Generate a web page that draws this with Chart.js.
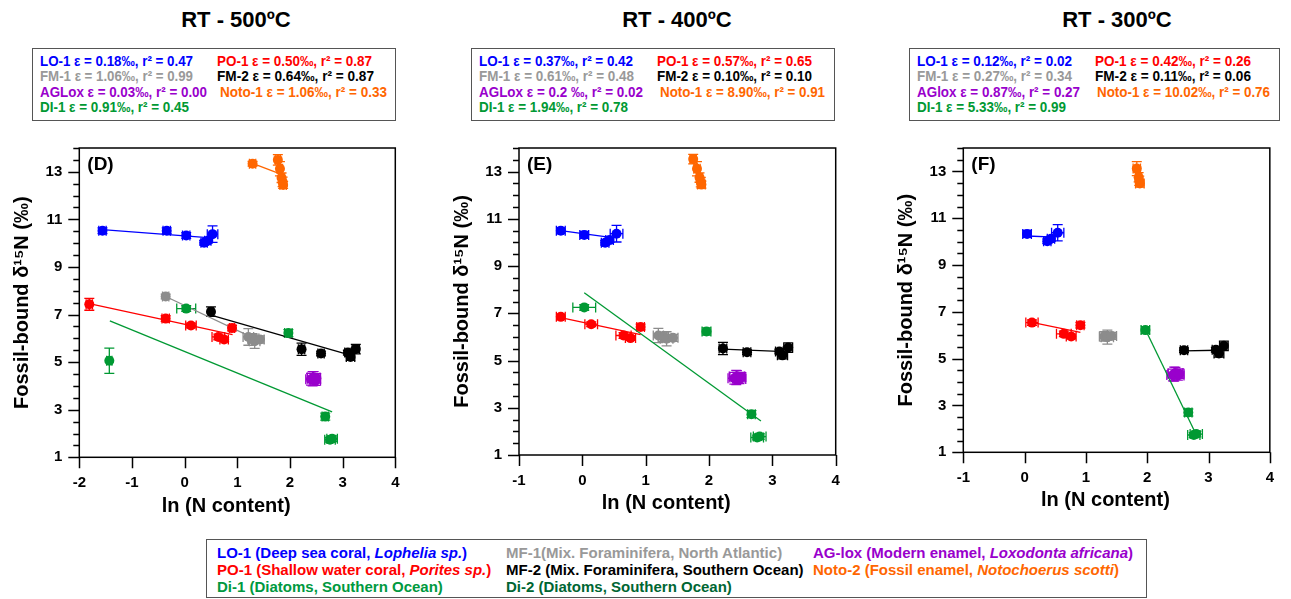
<!DOCTYPE html>
<html><head><meta charset="utf-8">
<script src="https://cdn.jsdelivr.net/npm/chart.js@4.4.0/dist/chart.umd.min.js"></script>
<style>
html,body{margin:0;padding:0;background:#fff;}
body{width:1291px;height:599px;position:relative;overflow:hidden;font-family:"Liberation Sans",Arial,sans-serif;}
.title{position:absolute;top:7px;width:300px;height:26px;line-height:26px;font-size:22px;font-weight:bold;text-align:center;color:#000;}
.box{position:absolute;border:1.5px solid #555;box-sizing:border-box;}
.st{position:absolute;font-size:14px;font-weight:bold;white-space:nowrap;line-height:16px;transform-origin:0 50%;}
.lg{position:absolute;font-size:15px;font-weight:bold;white-space:nowrap;line-height:17px;}
canvas{position:absolute;}
</style></head><body>
<div class="title" style="left:86px">RT - 500ºC</div>
<div class="title" style="left:527px">RT - 400ºC</div>
<div class="title" style="left:967px">RT - 300ºC</div>
<div id="stats"></div>
<canvas id="cD" width="420" height="408" style="left:0;top:122px"></canvas>
<canvas id="cE" width="420" height="408" style="left:440px;top:122px"></canvas>
<canvas id="cF" width="411" height="408" style="left:880px;top:122px"></canvas>
<div class="box" style="left:206px;top:539px;width:941px;height:59px"></div>
<span class="lg" style="left:217px;top:544px;color:#0000ff">LO-1 (Deep sea coral, <i>Lophelia sp.</i>)</span>
<span class="lg" style="left:506px;top:544px;color:#999999">MF-1(Mix. Foraminifera, North Atlantic)</span>
<span class="lg" style="left:813px;top:544px;color:#9900cc">AG-lox (Modern enamel, <i>Loxodonta africana</i>)</span>
<span class="lg" style="left:217px;top:561px;color:#ff0000">PO-1 (Shallow water coral, <i>Porites sp.</i>)</span>
<span class="lg" style="left:506px;top:561px;color:#000000">MF-2 (Mix. Foraminifera, Southern Ocean)</span>
<span class="lg" style="left:813px;top:561px;color:#ff6600">Noto-2 (Fossil enamel, <i>Notochoerus scotti</i>)</span>
<span class="lg" style="left:217px;top:578px;color:#009940">Di-1 (Diatoms, Southern Ocean)</span>
<span class="lg" style="left:506px;top:578px;color:#006633">Di-2 (Diatoms, Southern Ocean)</span>
<script>
// ---------- DATA: rows are [ln(N content), δ15N, x error, y error] ----------
// RT - 500ºC (D)
const LO1_500  = [[-1.56,10.52,0.07,0.12],[-0.34,10.52,0.07,0.12],[0.03,10.32,0.07,0.12],[0.37,10.02,0.06,0.10],[0.44,10.10,0.06,0.10],[0.53,10.38,0.10,0.35]];
const PO1_500  = [[-1.81,7.43,0.06,0.25],[-0.36,6.83,0.07,0.12],[0.12,6.54,0.10,0.10],[0.64,6.06,0.12,0.12],[0.75,5.95,0.08,0.08],[0.90,6.43,0.05,0.12]];
const FM1_500  = [[-0.36,7.76,0.06,0.10],[1.21,6.06,0.10,0.35],[1.28,6.00,0.08,0.20],[1.33,5.88,0.10,0.30],[1.43,5.95,0.08,0.15]];
const FM2_500  = [[0.50,7.12,0.05,0.20],[2.22,5.54,0.06,0.26],[2.59,5.36,0.06,0.10],[3.10,5.40,0.06,0.10],[3.15,5.22,0.08,0.15],[3.25,5.55,0.07,0.20]];
const AG_500   = [[2.40,4.28,0.10,0.25],[2.45,4.35,0.12,0.25],[2.48,4.22,0.10,0.20],[2.43,4.30,0.10,0.30],[2.50,4.32,0.08,0.20]];
const NOTO_500 = [[1.29,13.34,0.06,0.10],[1.77,13.50,0.05,0.22],[1.81,13.13,0.05,0.30],[1.84,12.75,0.05,0.20],[1.86,12.58,0.05,0.20],[1.87,12.45,0.06,0.15]];
const DI_500   = [[-1.43,5.06,0.05,0.53],[0.03,7.25,0.18,0.12],[1.97,6.22,0.07,0.15],[2.67,2.71,0.06,0.15],[2.76,1.74,0.10,0.10],[2.80,1.78,0.10,0.12]];
// RT - 400ºC (E)
const LO1_400  = [[-0.34,10.50,0.07,0.12],[0.03,10.32,0.07,0.15],[0.36,9.99,0.06,0.10],[0.43,10.10,0.06,0.10],[0.54,10.37,0.10,0.35]];
const PO1_400  = [[-0.34,6.85,0.07,0.10],[0.14,6.54,0.10,0.10],[0.65,6.06,0.12,0.12],[0.76,5.95,0.08,0.10],[0.92,6.42,0.06,0.12]];
const FM1_400  = [[1.20,6.06,0.08,0.30],[1.28,6.00,0.08,0.20],[1.33,5.92,0.10,0.30],[1.43,5.96,0.08,0.15]];
const FM2_400  = [[2.22,5.51,0.06,0.26],[2.60,5.35,0.06,0.10],[3.11,5.38,0.06,0.10],[3.16,5.22,0.08,0.15],[3.25,5.55,0.07,0.20]];
const AG_400   = [[2.40,4.25,0.10,0.25],[2.44,4.32,0.12,0.25],[2.48,4.22,0.10,0.20],[2.43,4.28,0.10,0.30],[2.50,4.30,0.08,0.20]];
const NOTO_400 = [[1.75,13.53,0.05,0.20],[1.81,13.12,0.05,0.30],[1.85,12.75,0.05,0.20],[1.87,12.55,0.05,0.20],[1.88,12.45,0.06,0.15]];
const DI_400   = [[0.03,7.25,0.18,0.12],[1.96,6.23,0.07,0.15],[2.67,2.73,0.06,0.15],[2.76,1.74,0.10,0.10],[2.80,1.78,0.10,0.12]];
// RT - 300ºC (F)
const LO1_300  = [[0.04,10.33,0.07,0.15],[0.37,10.02,0.06,0.10],[0.43,10.12,0.06,0.10],[0.54,10.38,0.10,0.35]];
const PO1_300  = [[0.12,6.54,0.10,0.12],[0.64,6.06,0.12,0.12],[0.76,5.95,0.08,0.10],[0.91,6.43,0.06,0.12]];
const FM1_300  = [[1.30,5.95,0.08,0.20],[1.35,5.92,0.10,0.30],[1.42,5.97,0.08,0.15]];
const FM2_300  = [[2.60,5.36,0.06,0.10],[3.12,5.38,0.06,0.10],[3.17,5.22,0.08,0.15],[3.25,5.55,0.07,0.20]];
const AG_300   = [[2.42,4.30,0.10,0.25],[2.46,4.38,0.12,0.25],[2.50,4.28,0.10,0.20],[2.44,4.34,0.10,0.30],[2.52,4.36,0.08,0.20]];
const NOTO_300 = [[1.83,13.12,0.06,0.30],[1.86,12.75,0.05,0.20],[1.87,12.60,0.05,0.20],[1.88,12.48,0.07,0.15]];
const DI_300   = [[1.97,6.22,0.07,0.15],[2.67,2.70,0.06,0.15],[2.76,1.74,0.10,0.10],[2.80,1.78,0.10,0.12]];
// Regression lines: [[x start, y start],[x end, y end]]
const LO1_500_fit=[[-1.56,10.57],[0.50,10.22]], PO1_500_fit=[[-1.81,7.46],[0.91,6.16]], FM1_500_fit=[[-0.36,7.76],[1.48,5.83]];
const FM2_500_fit=[[0.50,6.98],[3.11,5.32]], AG_500_fit=[[2.38,4.30],[2.52,4.30]], NOTO_500_fit=[[1.29,13.35],[1.80,12.92]], DI_500_fit=[[-1.42,6.73],[2.80,2.91]];
const LO1_400_fit=[[-0.34,10.50],[0.50,10.19]], PO1_400_fit=[[-0.34,6.82],[0.92,6.10]], FM1_400_fit=[[1.20,6.05],[1.46,5.89]];
const FM2_400_fit=[[2.22,5.48],[3.20,5.38]], AG_400_fit=[[2.38,4.30],[2.52,4.27]], NOTO_400_fit=[[1.75,13.55],[1.88,12.40]], DI_400_fit=[[0.03,7.87],[2.82,2.44]];
const LO1_300_fit=[[0.04,10.24],[0.50,10.19]], PO1_300_fit=[[0.12,6.55],[0.91,6.12]], FM1_300_fit=[[1.30,5.93],[1.45,5.89]];
const FM2_300_fit=[[2.60,5.33],[3.15,5.36]], AG_300_fit=[[2.38,4.38],[2.54,4.24]], NOTO_300_fit=[[1.82,13.10],[1.89,12.40]], DI_300_fit=[[1.97,6.25],[2.80,1.75]];
// Statistics text
const stats500 = ['LO-1 ε = 0.18‰, r² = 0.47','PO-1 ε = 0.50‰, r² = 0.87','FM-1 ε = 1.06‰, r² = 0.99','FM-2 ε = 0.64‰, r² = 0.87','AGLox ε = 0.03‰, r² = 0.00','Noto-1 ε = 1.06‰, r² = 0.33','DI-1 ε = 0.91‰, r² = 0.45'];
const stats400 = ['LO-1 ε = 0.37‰, r² = 0.42','PO-1 ε = 0.57‰, r² = 0.65','FM-1 ε = 0.61‰, r² = 0.48','FM-2 ε = 0.10‰, r² = 0.10','AGLox ε = 0.2 ‰, r² = 0.02','Noto-1 ε = 8.90‰, r² = 0.91','DI-1 ε = 1.94‰, r² = 0.78'];
const stats300 = ['LO-1 ε = 0.12‰, r² = 0.02','PO-1 ε = 0.42‰, r² = 0.26','FM-1 ε = 0.27‰, r² = 0.34','FM-2 ε = 0.11‰, r² = 0.06','AGlox ε = 0.87‰, r² = 0.27','Noto-1 ε = 10.02‰, r² = 0.76','DI-1 ε = 5.33‰, r² = 0.99'];
const yTickLabels = [1,3,5,7,9,11,13];

// ---------- STYLE / LAYOUT ----------
const COL = {LO:'#0000ff', PO:'#ff0000', FM1:'#8c8c8c', FM2:'#000000', AG:'#9900cc', NOTO:'#ff6600', DI:'#009933'};
const statColors = [COL.LO, COL.PO, '#999999', '#000000', COL.AG, COL.NOTO, COL.DI];
const FONT = '"Liberation Sans", Arial, sans-serif';

const statBoxes = [
  {stats: stats500, box:[31.5,48,364,73], c1:40, c2:217, cN:220, ends:[193,372,193,374,207,387,189]},
  {stats: stats400, box:[471,48,364,73], c1:479, c2:657, cN:660, ends:[633,812,634,812,643,825,628]},
  {stats: stats300, box:[909,48,371,73], c1:917, c2:1095, cN:1097, ends:[1072,1251,1072,1251,1080,1270,1066]}
];
const statsDiv = document.getElementById('stats');
const rowTops = [53, 68.3, 83.7, 99];
statBoxes.forEach(sb => {
  const b = document.createElement('div');
  b.className = 'box';
  b.style.cssText = `left:${sb.box[0]}px;top:${sb.box[1]}px;width:${sb.box[2]}px;height:${sb.box[3]}px`;
  statsDiv.appendChild(b);
  const place = [[sb.c1,0],[sb.c2,0],[sb.c1,1],[sb.c2,1],[sb.c1,2],[sb.cN,2],[sb.c1,3]];
  sb.stats.forEach((t,i) => {
    const s = document.createElement('span');
    s.className = 'st';
    s.textContent = t;
    s.style.cssText = `left:${place[i][0]}px;top:${rowTops[place[i][1]]}px;color:${statColors[i]}`;
    statsDiv.appendChild(s);
    const w = s.getBoundingClientRect().width;
    const k = (sb.ends[i] - place[i][0]) / w;
    s.style.transform = `scaleX(${k})`;
  });
});

// ---------- PLUGINS ----------
const errorBars = {
  id: 'errorBars',
  beforeDatasetsDraw(chart) {
    const {ctx, scales:{x, y}} = chart;
    chart.data.datasets.forEach(ds => {
      if (!ds.errors) return;
      ctx.save();
      ctx.strokeStyle = ds.borderColor;
      ctx.lineWidth = 1.3;
      const c = 5;
      ds.data.forEach((p, j) => {
        const [ex, ey] = ds.errors[j];
        const px = x.getPixelForValue(p.x), py = y.getPixelForValue(p.y);
        const x0 = x.getPixelForValue(p.x - ex), x1 = x.getPixelForValue(p.x + ex);
        const y0 = y.getPixelForValue(p.y - ey), y1 = y.getPixelForValue(p.y + ey);
        ctx.beginPath();
        ctx.moveTo(x0, py); ctx.lineTo(x1, py);
        ctx.moveTo(x0, py - c); ctx.lineTo(x0, py + c);
        ctx.moveTo(x1, py - c); ctx.lineTo(x1, py + c);
        ctx.moveTo(px, y0); ctx.lineTo(px, y1);
        ctx.moveTo(px - c, y0); ctx.lineTo(px + c, y0);
        ctx.moveTo(px - c, y1); ctx.lineTo(px + c, y1);
        ctx.stroke();
      });
      ctx.restore();
    });
  }
};
const frame = {
  id: 'frame',
  afterDraw(chart, args, opts) {
    const {ctx, chartArea:a, scales:{x, y}} = chart;
    ctx.save();
    ctx.strokeStyle = '#000';
    ctx.lineWidth = 1.5;
    ctx.strokeRect(a.left, a.top, a.right - a.left, a.bottom - a.top);
    ctx.beginPath();
    for (let v = y.min; v <= y.max + 1e-9; v += 0.5) {
      const py = Math.round(y.getPixelForValue(v)) + 0.5;
      const major = yTickLabels.some(t => Math.abs(t - v) < 1e-6);
      ctx.moveTo(a.left, py); ctx.lineTo(a.left - (major ? 11 : 6), py);
    }
    for (let v = x.min; v <= x.max + 1e-9; v += 1) {
      const px = Math.round(x.getPixelForValue(v)) + 0.5;
      ctx.moveTo(px, a.bottom); ctx.lineTo(px, a.bottom + 11);
    }
    ctx.stroke();
    ctx.fillStyle = '#000';
    ctx.font = 'bold 19px ' + FONT;
    ctx.textBaseline = 'middle';
    ctx.textAlign = 'left';
    ctx.fillText(opts.label, a.left + 8, a.top + 16.5);
    ctx.restore();
  }
};

// ---------- PANELS ----------
const panels = [
  {id:'cD', label:'(D)', left:0,   top:122, w:420, h:408, area:[79.3,140,395.3,457.3], xmin:-2, ytp:10,   xtp:12,
   series:[[LO1_500,LO1_500_fit,COL.LO],[NOTO_500,NOTO_500_fit,COL.NOTO],[PO1_500,PO1_500_fit,COL.PO],[FM1_500,FM1_500_fit,COL.FM1],[FM2_500,FM2_500_fit,COL.FM2],[AG_500,AG_500_fit,COL.AG],[DI_500,DI_500_fit,COL.DI]]},
  {id:'cE', label:'(E)', left:440, top:122, w:420, h:408, area:[519,137.3,835.7,455], xmin:-1, ytp:10,   xtp:14.7,
   series:[[LO1_400,LO1_400_fit,COL.LO],[NOTO_400,NOTO_400_fit,COL.NOTO],[PO1_400,PO1_400_fit,COL.PO],[FM1_400,FM1_400_fit,COL.FM1],[FM2_400,FM2_400_fit,COL.FM2],[AG_400,AG_400_fit,COL.AG],[DI_400,DI_400_fit,COL.DI]]},
  {id:'cF', label:'(F)', left:880, top:122, w:411, h:408, area:[963.3,135,1280,452.3], xmin:-1, ytp:14.7, xtp:18,
   series:[[LO1_300,LO1_300_fit,COL.LO],[NOTO_300,NOTO_300_fit,COL.NOTO],[PO1_300,PO1_300_fit,COL.PO],[FM1_300,FM1_300_fit,COL.FM1],[FM2_300,FM2_300_fit,COL.FM2],[AG_300,AG_300_fit,COL.AG],[DI_300,DI_300_fit,COL.DI]]}
];

panels.forEach(p => {
  const points = p.series.map(([rows, , color]) => ({
    type: 'scatter',
    data: rows.map(r => ({x: r[0], y: r[1]})),
    errors: rows.map(r => [r[2], r[3]]),
    backgroundColor: color, borderColor: color,
    pointRadius: 5, pointBorderWidth: 0, pointStyle: 'circle'
  }));
  const fits = p.series.map(([, fit, color]) => ({
    type: 'line',
    data: fit.map(f => ({x: f[0], y: f[1]})),
    borderColor: color, borderWidth: 1.3, pointRadius: 0, fill: false, tension: 0
  }));
  const yW = p.area[0] - p.left;
  const xH = p.top + p.h - p.area[3];
  new Chart(document.getElementById(p.id), {
    data: {datasets: points.concat(fits)},
    options: {
      responsive: false, animation: false, devicePixelRatio: 1,
      layout: {padding: {left: 0, top: p.area[1] - p.top, right: p.left + p.w - p.area[2], bottom: 0}},
      plugins: {legend: {display: false}, tooltip: {enabled: false}, frame: {label: p.label}},
      scales: {
        x: {
          type: 'linear', position: 'bottom', min: p.xmin, max: 4,
          grid: {display: false, drawTicks: false}, border: {display: false},
          ticks: {stepSize: 1, color: '#000', padding: 17, maxRotation: 0, autoSkip: false,
                  font: {family: FONT, size: 15, weight: 'bold'}, callback: v => String(v)},
          title: {display: true, text: 'ln (N content)\u00a0\u00a0\u00a0\u00a0', color: '#000',
                  font: {family: FONT, size: 20, weight: 'bold', lineHeight: 1.2}, padding: {top: 0, bottom: p.xtp}},
          afterFit: s => { s.height = xH; }
        },
        y: {
          type: 'linear', position: 'left', min: 1, max: 14,
          grid: {display: false, drawTicks: false}, border: {display: false},
          ticks: {stepSize: 0.5, color: '#000', padding: 17, autoSkip: false,
                  font: {family: FONT, size: 15, weight: 'bold'},
                  callback: v => { const r = Math.round(v); return (Math.abs(v - r) < 1e-6 && yTickLabels.includes(r)) ? String(r) : ''; }},
          title: {display: true, text: 'Fossil-bound δ¹⁵N (‰)', color: '#000',
                  font: {family: FONT, size: 20, weight: 'bold', lineHeight: 1.2}, padding: {top: p.ytp, bottom: 0}},
          afterFit: s => { s.width = yW; }
        }
      }
    },
    plugins: [errorBars, frame]
  });
});
</script>
</body></html>
